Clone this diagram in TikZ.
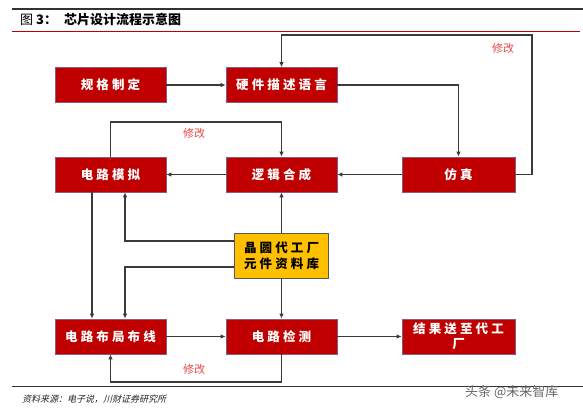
\documentclass[tikz,border=0pt]{standalone}
\usepackage{fontspec}
\newfontfamily\cjk{Noto Sans CJK SC}
\newfontfamily\cjksp[LetterSpace=25]{Noto Sans CJK SC}
\newfontfamily\cjkit[FakeSlant=0.25]{Noto Sans CJK SC}
\usetikzlibrary{arrows.meta}
\definecolor{boxred}{HTML}{C00000}
\definecolor{boxedge}{HTML}{8C5A80}
\definecolor{libyel}{HTML}{FFC000}
\definecolor{lnc}{HTML}{3A3A3A}
\definecolor{modred}{HTML}{E8484A}
\begin{document}
\begin{tikzpicture}[x=1pt,y=-1pt,
  redbox/.style={draw=boxedge, line width=0.6pt, fill=boxred, text=white,
    minimum width=111pt, minimum height=35pt, inner sep=0pt,
    font=\cjksp\fontsize{12.5}{15}\selectfont\bfseries, align=center},
  yelbox/.style={draw=gray!70!black, line width=0.6pt, fill=libyel, text=black,
    minimum width=94pt, minimum height=45pt, inner sep=0pt,
    font=\cjksp\fontsize{12.5}{16}\selectfont\bfseries, align=center},
  arr/.style={draw=lnc, line width=1.6pt, -{Latex[length=5pt,width=4.5pt]}},
  modlbl/.style={text=modred, font=\cjk\fontsize{11}{12}\selectfont, inner sep=0pt}
]
\useasboundingbox (0,0) rectangle (583,411);
\fill[white] (0,0) rectangle (583,411);

% header
\draw[line width=1.2pt, black!80] (12,9) -- (583,9);
\draw[line width=1pt, boxred] (12,32) -- (580,32);
\node[anchor=west, inner sep=0pt, font=\cjk\fontsize{13}{14}\selectfont] (fig) at (20,20) {图 \textbf{3：}};
\node[anchor=west, inner sep=0pt, font=\cjk\fontsize{13}{14}\selectfont\bfseries] (title) at (64,20) {芯片设计流程示意图};

% boxes
\node[redbox] (spec) at (110.5,85) {规格制定};
\node[redbox] (hdl)  at (281.5,85) {硬件描述语言};
\node[redbox] (sim)  at (110.5,174.5) {电路模拟};
\node[redbox] (syn)  at (281.5,174.5) {逻辑合成};
\node[redbox, minimum width=113pt] (fz) at (458.5,174.5) {仿真};
\node[yelbox] (lib)  at (281.5,255.5) {晶圆代工厂\\元件资料库};
\node[redbox] (pr)   at (110.5,336.5) {电路布局布线};
\node[redbox] (chk)  at (281.5,336.5) {电路检测};
\node[redbox, minimum width=113pt] (res) at (458.5,336.5) {结果送至代工\\厂};

% connectors
\draw[arr] (spec.east) -- (hdl.west);
\coordinate (tr) at (532,35);
\draw[arr] (fz.east) -| (tr) -| (hdl.north);
\draw[arr] (hdl.east) -| (fz.north);
\draw[arr] (fz.west) -- (syn.east);
\draw[arr] (syn.west) -- (sim.east);
\coordinate (ml) at (110.5,122);
\draw[arr] (sim.north) -- (ml) -| (syn.north);
\draw[arr] (lib.north) -- (syn.south);
\draw[arr] ([xshift=-18.5pt]sim.south) -- ([xshift=-18.5pt]pr.north);
\draw[arr] ([yshift=14.5pt]lib.west) -| ([xshift=14.5pt]sim.south);
\draw[arr] ([yshift=-11.5pt]lib.west) -| ([xshift=14.5pt]pr.north);
\draw[arr] (lib.south) -- (chk.north);
\draw[arr] (pr.east) -- (chk.west);
\draw[arr] (chk.east) -- (res.west);
\coordinate (bl) at (281.5,382);
\draw[arr] (chk.south) -- (bl) -| (pr.south);

% labels
\node[modlbl] (m1) at (503,48) {修改};
\node[modlbl] (m2) at (194,133) {修改};
\node[modlbl] (m3) at (194,369) {修改};

% footer
\draw[line width=1pt, black!80] (12,386) -- (583,386);
\node[anchor=west, inner sep=0pt, font=\cjkit\fontsize{9}{10}\selectfont, text=black!85] (src) at (22,399) {资料来源：电子说，川财证券研究所};
\node[anchor=west, inner sep=0pt, font=\cjk\fontsize{13}{14}\selectfont, text=black!60] (wm) at (465,392) {头条 @未来智库};
\end{tikzpicture}
\end{document}
